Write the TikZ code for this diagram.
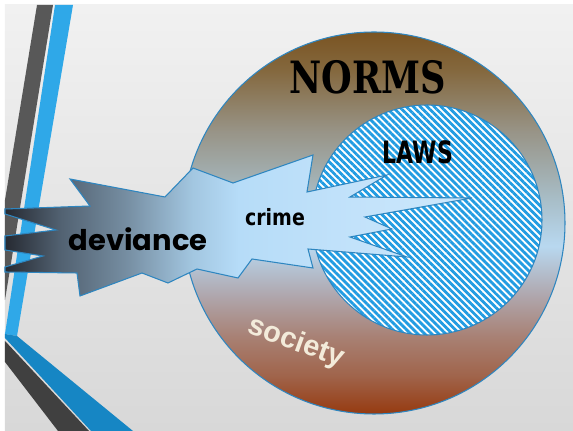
\documentclass[tikz,border=0pt]{standalone}
\usepackage{fontspec}
\usepackage{graphicx}
\setmainfont{DejaVu Sans}
\newfontfamily\normsfont{DejaVu Serif}
\newfontfamily\devfont{Poppins}
\newfontfamily\socfont{Liberation Sans}
\usetikzlibrary{patterns.meta}
\definecolor{slidetop}{RGB}{241,241,241}
\definecolor{slidebot}{RGB}{216,216,216}
\definecolor{stripegray}{RGB}{88,88,88}
\definecolor{stripeblue}{RGB}{47,168,232}
\definecolor{bandblue}{RGB}{22,134,196}
\definecolor{banddark}{RGB}{64,64,64}
\definecolor{edgeblue}{RGB}{46,134,192}
\definecolor{hatchblue}{RGB}{34,156,226}
\definecolor{soccream}{RGB}{243,235,218}
% ring colours, bottom to top
\definecolor{ringrust}{RGB}{150,58,16}
\definecolor{ringclay}{RGB}{160,100,75}
\definecolor{ringmauve}{RGB}{168,128,115}
\definecolor{ringlilac}{RGB}{176,170,178}
\definecolor{ringsky}{RGB}{184,216,240}
\definecolor{ringmist}{RGB}{168,190,200}
\definecolor{ringsage}{RGB}{152,148,135}
\definecolor{ringtan}{RGB}{132,104,62}
\definecolor{ringbrown}{RGB}{122,84,34}
% star colours, left to right
\definecolor{stardark}{RGB}{38,42,50}
\definecolor{starslate}{RGB}{82,98,114}
\definecolor{stargray}{RGB}{118,142,162}
\definecolor{starsky}{RGB}{162,198,224}
\definecolor{starlight}{RGB}{182,220,248}
\definecolor{starpale}{RGB}{206,232,252}
\pgfdeclareverticalshading{ringshade}{100bp}{color(0bp)=(ringrust); color(25bp)=(ringrust); color(30bp)=(ringclay); color(35bp)=(ringmauve); color(41bp)=(ringlilac); color(47bp)=(ringsky); color(53bp)=(ringmist); color(62bp)=(ringsage); color(70bp)=(ringtan); color(75bp)=(ringbrown); color(100bp)=(ringbrown)}
\pgfdeclarehorizontalshading{starshade}{100bp}{color(0bp)=(stardark); color(25bp)=(stardark); color(31bp)=(starslate); color(38bp)=(stargray); color(45bp)=(starsky); color(50bp)=(starlight); color(75bp)=(starpale); color(100bp)=(starpale)}

\begin{document}
\begin{tikzpicture}[x=0.2mm,y=-0.2mm,
  outline/.style={draw=edgeblue,line width=0.6pt},
  every node/.style={inner sep=0pt}]
  \useasboundingbox (0,0) rectangle (573,431);
  \fill[white] (0,0) rectangle (573,431);
  \shade[top color=slidetop,bottom color=slidebot] (5,5) rectangle (573,431);
  \fill[stripegray] (37,5) -- (53,5) -- (5,300) -- (5,200) -- cycle;
  \fill[stripeblue] (55,5) -- (73,5) -- (17,336) -- (5,334) -- cycle;
  \fill[bandblue] (5,334) -- (17,336) -- (133,431) -- (91,431) -- (5,338) -- cycle;
  \fill[banddark] (5,341) -- (89,431) -- (58,431) -- (5,362) -- cycle;
  \draw[outline,shading=ringshade] (374,223) circle[radius=191];
  \draw[outline,preaction={fill=white},pattern={Lines[angle=-45,distance=2.8pt,line width=1.6pt]},pattern color=hatchblue] (427,220) circle[radius=115];
  \draw[outline,shading=starshade] (5,209) -- (90,206) -- (70,179) -- (165,197) -- (193,168) -- (233,183)
    -- (313,155) -- (307,192) -- (387,175) -- (350,197) -- (472,198) -- (365,217) -- (392,229)
    -- (350,237) -- (407,257) -- (308,249) -- (313,268) -- (252,259) -- (238,278) -- (197,269)
    -- (168,283) -- (142,273) -- (80,296) -- (77,273) -- (5,272) -- (5,267) -- (43,256)
    -- (5,250) -- (5,236) -- (56,230) -- (5,214) -- cycle;
  \node (norms) at (368,77) {\resizebox{89pt}{18.8pt}{\normsfont\bfseries NORMS}};
  \node (laws) at (418,152) {\resizebox{40pt}{13pt}{\bfseries LAWS}};
  \node (crime) at (275,217) {\resizebox{34pt}{9.7pt}{\bfseries crime}};
  \node (deviance) at (138,239) {\resizebox{79pt}{13pt}{\devfont\bfseries deviance}};
  \node[rotate=-20,text=soccream,font=\socfont\bfseries\fontsize{16.5}{18}\selectfont] (society) at (296,343) {society};
\end{tikzpicture}
\end{document}
